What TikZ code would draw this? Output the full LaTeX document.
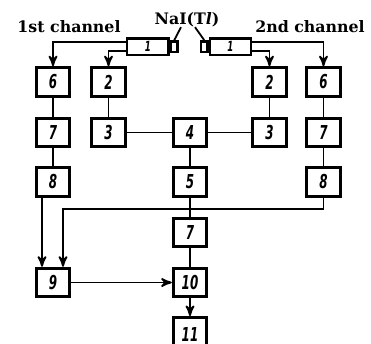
\documentclass[tikz,border=0pt]{standalone}
\usepackage{fontspec}
\setmainfont{DejaVu Serif}
\newfontfamily\digitfont[FakeStretch=0.62]{DejaVu Sans}
\usepackage{tikz}
\usetikzlibrary{arrows}
\usetikzlibrary{positioning}
\tikzset{
	block/.style={rectangle,draw,line width=1.4pt,minimum width=16.8pt,minimum height=14.3pt,
		inner sep=0pt,font=\digitfont\bfseries\itshape\fontsize{9.6}{10}\selectfont},
	pmt/.style={rectangle,draw,line width=1.2pt,minimum width=20.7pt,minimum height=8.2pt,
		inner sep=0pt,font=\digitfont\bfseries\itshape\fontsize{7}{8}\selectfont},
	window/.style={rectangle,draw,line width=1.2pt,minimum width=3.2pt,minimum height=5.2pt,inner sep=0pt},
	title text/.style={inner sep=0pt,font=\bfseries\fontsize{7.9}{9}\selectfont},
	link/.style={line width=0.9pt}
}

\begin{document}
\begin{tikzpicture}[x=0.5pt,y=-0.5pt,>=stealth']
	\useasboundingbox (0,0) rectangle (371,344);
	% detectors
	\node [pmt] (pmtL) at (148,46.5) {1};
	\node [window,right=0pt of pmtL] (capL) {};
	\node [pmt] (pmtR) at (230.5,46.5) {1};
	\node [window,left=0pt of pmtR] (capR) {};
	\node [title text] (nai) at (187,19.5) {NaI(T\textit{l})};
	\node [title text] (ch1) at (69,27) {1st channel};
	\node [title text] (ch2) at (310,27) {2nd channel};
	\draw [link] (capL.north) -- ([xshift=-3pt]nai.south);
	\draw [link] (capR.north) -- ([xshift=4pt]nai.south);
	% blocks
	\node [block] (b6L) at (53,82) {6};
	\node [block] (b2L) at (108.5,82) {2};
	\node [block] (b2R) at (269.5,82) {2};
	\node [block] (b6R) at (323.5,82) {6};
	\node [block] (b7L) at (53,132.5) {7};
	\node [block] (b3L) at (108.5,132.5) {3};
	\node [block] (b4) at (190,132.5) {4};
	\node [block] (b3R) at (269.5,132.5) {3};
	\node [block] (b7R) at (323.5,132.5) {7};
	\node [block] (b8L) at (53,182) {8};
	\node [block] (b5) at (190,182) {5};
	\node [block] (b8R) at (323.5,182) {8};
	\node [block] (b7C) at (190,232.5) {7};
	\node [block] (b9) at (53,282.5) {9};
	\node [block] (b10) at (190,282.5) {10};
	\node [block,minimum height=17pt] (b11) at (190,334.5) {11};
	% connections
	\draw [->,link] ([yshift=2.25pt]pmtL.west) -| (b6L.north);
	\draw [->,link] ([yshift=-2.25pt]pmtL.west) -| (b2L.north);
	\draw [->,link] ([yshift=2.25pt]pmtR.east) -| (b6R.north);
	\draw [->,link] ([yshift=-2.25pt]pmtR.east) -| (b2R.north);
	\draw [link] (b6L) -- (b7L) -- (b8L);
	\draw [link] (b6R) -- (b7R) -- (b8R);
	\draw [link] (b2L) -- (b3L) -- (b4) -- (b3R) -- (b2R);
	\draw [link] (b4) -- (b5) -- (b7C) -- (b10);
	\draw [->,link] ([xshift=-5.5pt]b8L.south) -- ([xshift=-5.5pt]b9.north);
	\draw [->,link] (b8R.south) -- ++(0,11) -| ([xshift=5pt]b9.north);
	\draw [->,link] (b9) -- (b10);
	\draw [->,link] (b10) -- (b11);
\end{tikzpicture}
\end{document}
